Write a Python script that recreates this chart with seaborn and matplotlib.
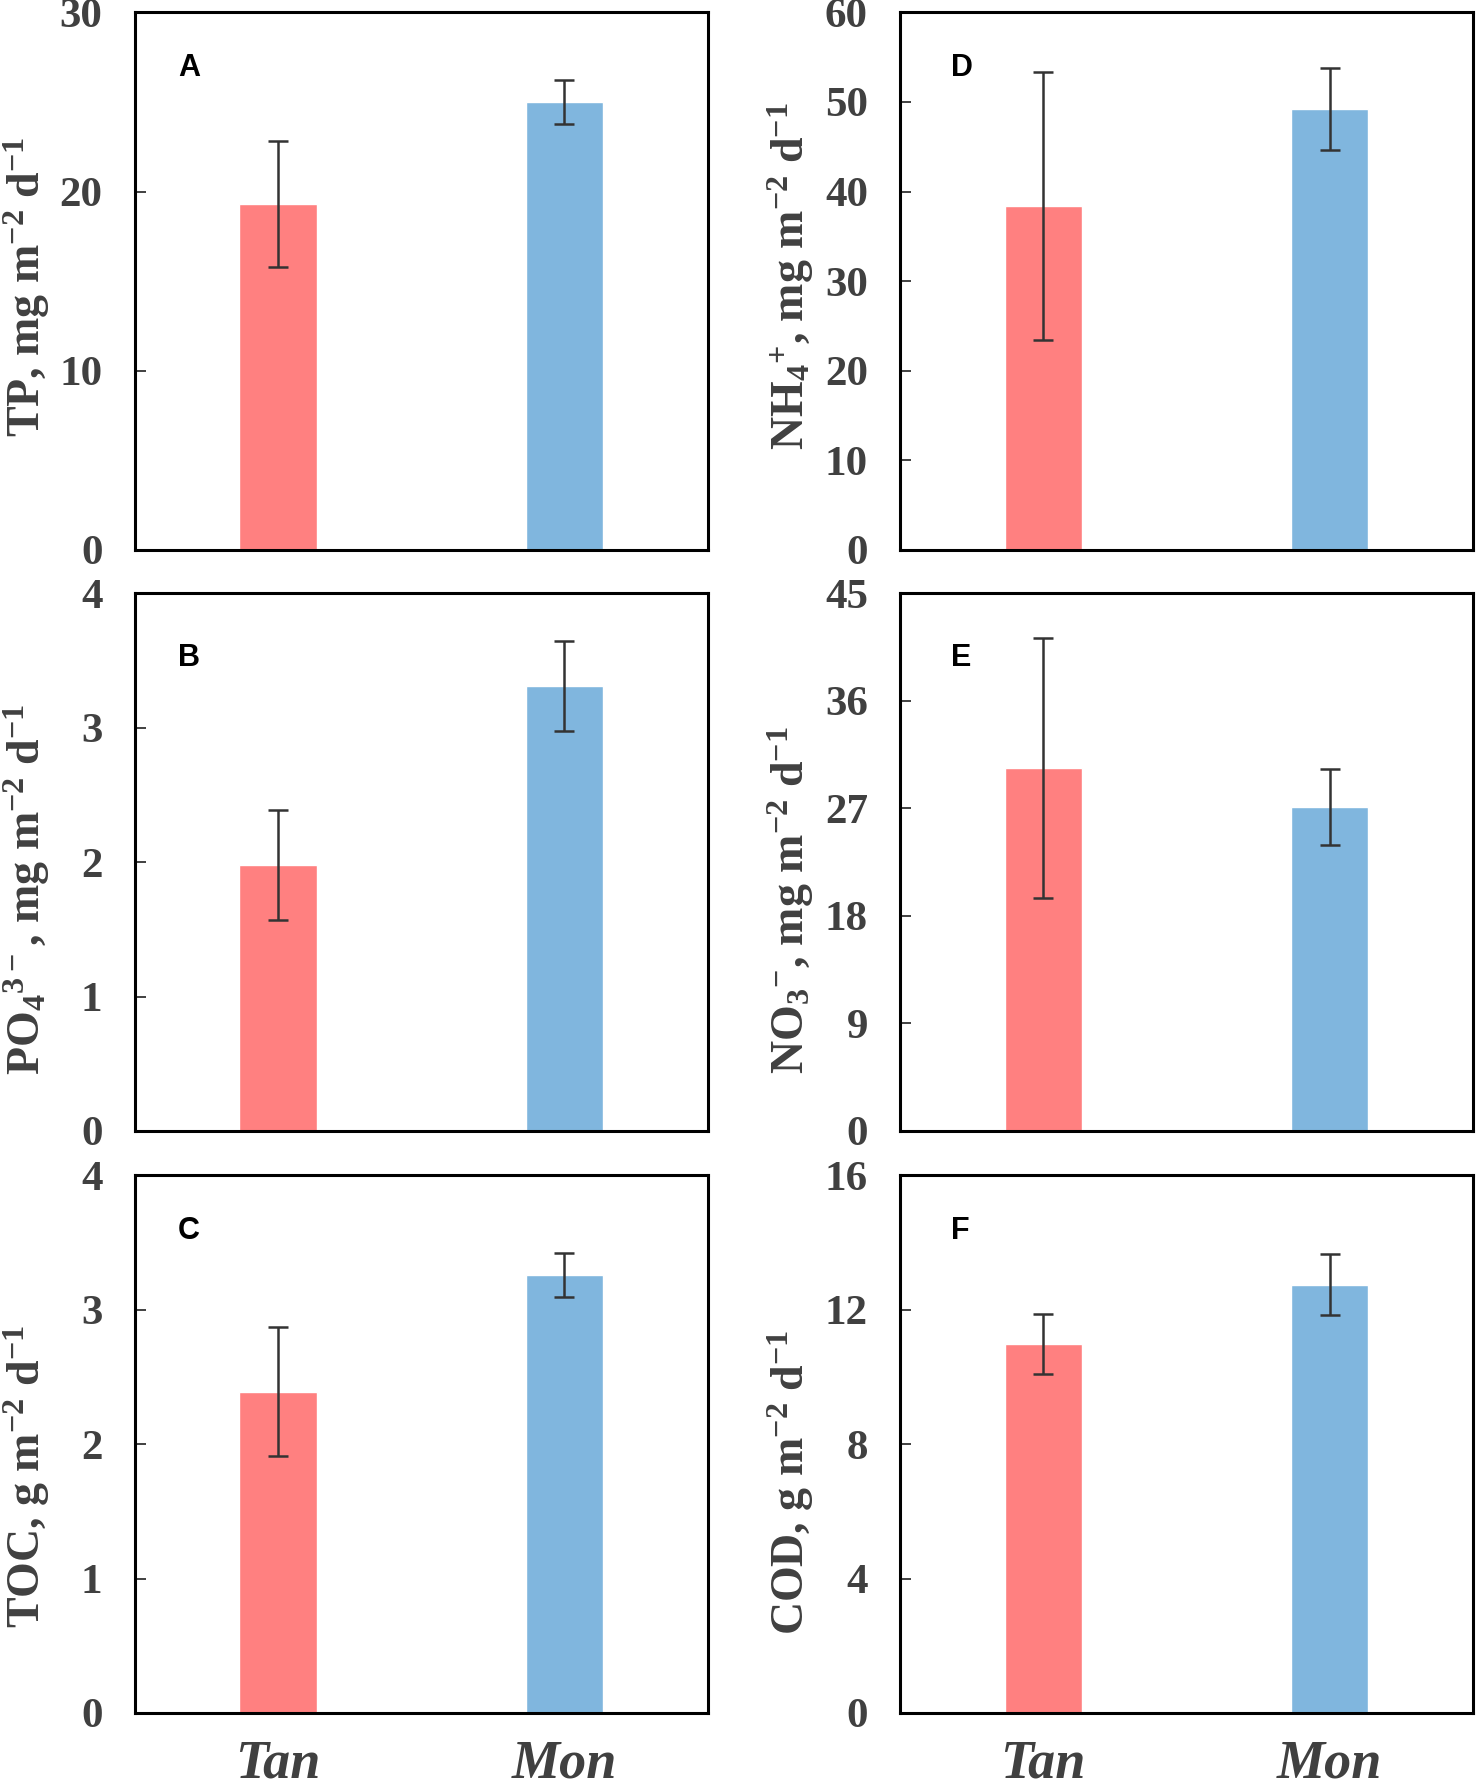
import numpy as np
import pandas as pd
import matplotlib
matplotlib.use("Agg")
import matplotlib.pyplot as plt
import seaborn as sns

# =====================================================
# Data
# =====================================================

sites = ["Tan", "Mon"]
bar_colors = ["#FF8080", "#80B6DE"]

tp_mean = [19.3, 25.0]
tp_sd = [3.5, 1.25]

po4_mean = [1.98, 3.31]
po4_sd = [0.41, 0.335]

toc_mean = [2.39, 3.26]
toc_sd = [0.48, 0.163]

nh4_mean = [38.4, 49.2]
nh4_sd = [15.0, 4.55]

no3_mean = [30.4, 27.1]
no3_sd = [10.9, 3.17]

cod_mean = [10.98, 12.75]
cod_sd = [0.9, 0.9]

# =====================================================
# Panel settings
# =====================================================

panels = [
    # letter, means, sds, ylabel, ymax, ticks, label y
    ("A", tp_mean, tp_sd, "TP, mg m$^{-2}$ d$^{-1}$", 30, [0, 10, 20, 30], 0.49),
    ("B", po4_mean, po4_sd, "PO$_{4}$$^{3-}$, mg m$^{-2}$ d$^{-1}$", 4, [0, 1, 2, 3, 4], 0.45),
    ("C", toc_mean, toc_sd, "TOC, g m$^{-2}$ d$^{-1}$", 4, [0, 1, 2, 3, 4], 0.44),
    ("D", nh4_mean, nh4_sd, "NH$_{4}$$^{+}$, mg m$^{-2}$ d$^{-1}$", 60, [0, 10, 20, 30, 40, 50, 60], 0.51),
    ("E", no3_mean, no3_sd, "NO$_{3}$$^{-}$, mg m$^{-2}$ d$^{-1}$", 45, [0, 9, 18, 27, 36, 45], 0.43),
    ("F", cod_mean, cod_sd, "COD, g m$^{-2}$ d$^{-1}$", 16, [0, 4, 8, 12, 16], 0.43),
]

# axes boxes in figure fractions
left_x = [0.0911, 0.6093]
row_bottom = [0.6931, 0.3689, 0.0441]
ax_w = 0.3880
ax_h = 0.3000

# =====================================================
# Style
# =====================================================

sns.set_theme(style="white")
plt.rcParams["font.family"] = ["Liberation Serif", "DejaVu Serif"]
plt.rcParams["mathtext.default"] = "regular"

text_gray = "#404040"

fig = plt.figure(figsize=(14.77, 17.92), dpi=100)

for i, (letter, means, sds, ylabel, ymax, ticks, label_y) in enumerate(panels):

    col = i // 3
    row = i % 3

    ax = fig.add_axes([left_x[col], row_bottom[row], ax_w, ax_h])

    df = pd.DataFrame({"site": sites, "value": means})

    sns.barplot(
        data=df,
        x="site",
        y="value",
        hue="site",
        palette=bar_colors,
        saturation=1,
        width=0.27,
        errorbar=None,
        legend=False,
        ax=ax
    )

    ax.errorbar(
        df["site"],
        df["value"],
        yerr=sds,
        fmt="none",
        ecolor="#333333",
        elinewidth=1.8,
        capsize=7,
        capthick=1.8
    )

    ax.set_xlim(-0.5, 1.5)
    ax.set_ylim(0, ymax)
    ax.set_yticks(ticks)
    ax.set_yticklabels([str(t) for t in ticks])

    for spine in ax.spines.values():
        spine.set_visible(True)
        spine.set_color("black")
        spine.set_linewidth(2.2)

    ax.tick_params(
        axis="y",
        direction="in",
        length=8,
        width=1.4,
        color="#404040",
        pad=23,
        labelsize=31,
        labelcolor=text_gray,
        left=True
    )
    for lab in ax.get_yticklabels():
        lab.set_fontweight("bold")

    if row == 2:
        ax.tick_params(
            axis="x",
            length=0,
            pad=19,
            labelsize=39,
            labelcolor=text_gray
        )
        for lab in ax.get_xticklabels():
            lab.set_fontweight("bold")
            lab.set_fontstyle("italic")
    else:
        ax.set_xticklabels([])
        ax.tick_params(axis="x", length=0)

    ax.set_xlabel("")
    ax.set_ylabel(
        ylabel,
        fontsize=33,
        fontweight="bold",
        color=text_gray,
        va="baseline"
    )
    ax.yaxis.set_label_coords(-0.165 if col == 0 else -0.168, label_y)

    letter_x = 0.076 if col == 0 else 0.089
    letter_y = 0.88 if row == 1 else 0.897
    ax.text(
        letter_x,
        letter_y,
        letter,
        transform=ax.transAxes,
        fontsize=22,
        fontweight="bold",
        family=["Liberation Sans", "DejaVu Sans"],
        color="black",
        ha="left",
        va="center"
    )

fig.savefig("out.png", dpi=100)
plt.close(fig)
